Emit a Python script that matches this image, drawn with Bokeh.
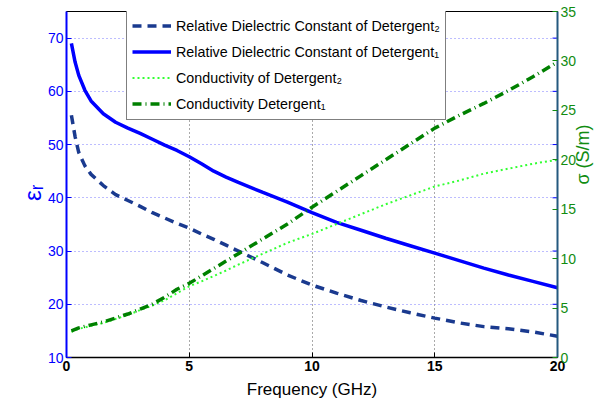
import math

from bokeh.embed import file_html
from bokeh.models import (FixedTicker, Legend, LegendItem, LinearAxis,
                          Range1d)
from bokeh.plotting import figure
from bokeh.resources import INLINE

# ---- data -------------------------------------------------------------
freq = [0.2, 0.35, 0.5, 0.75, 1.0, 1.5, 2.0, 2.5, 3.0, 3.5, 4.0, 4.5, 5.0,
        5.5, 6.0, 6.5, 7.0, 8.0, 9.0, 10.0, 11.0, 12.0, 13.0, 14.0, 15.0,
        16.0, 17.0, 18.0, 19.0, 20.0]

# relative dielectric constant
eps_det1 = [69.0, 65.5, 63.0, 60.2, 58.2, 55.8, 54.2, 53.1, 52.1, 51.0, 49.9,
            48.9, 47.7, 46.4, 45.0, 43.9, 42.9, 41.0, 39.2, 37.2, 35.4, 33.9,
            32.4, 31.0, 29.6, 28.2, 26.8, 25.5, 24.3, 23.1]
eps_det2 = [55.5, 51.5, 48.5, 46.0, 44.4, 42.3, 40.6, 39.5, 38.4, 37.2, 36.2,
            35.2, 34.3, 33.2, 32.2, 31.1, 30.0, 27.8, 25.5, 23.6, 22.1, 20.7,
            19.5, 18.4, 17.4, 16.5, 15.8, 15.4, 14.8, 14.0]

# conductivity (S/m)
sig_det1 = [2.7, 2.85, 3.0, 3.15, 3.3, 3.6, 4.0, 4.4, 4.9, 5.4, 6.1, 6.9, 7.5,
            8.25, 9.0, 9.75, 10.5, 12.0, 13.5, 15.2, 16.8, 18.4, 20.0, 21.6,
            23.2, 24.5, 25.7, 27.0, 28.4, 29.9]
sig_det2 = [2.6, 2.75, 2.9, 3.05, 3.2, 3.5, 3.9, 4.3, 4.8, 5.25, 5.8, 6.5, 7.2,
            7.7, 8.25, 8.8, 9.4, 10.5, 11.6, 12.5, 13.5, 14.5, 15.5, 16.4,
            17.3, 17.9, 18.6, 19.1, 19.6, 20.0]

x_ticks = [0, 5, 10, 15, 20]
eps_ticks = [10, 20, 30, 40, 50, 60, 70]
sig_ticks = [0, 5, 10, 15, 20, 25, 30, 35]

legend_labels = ["Relative Dielectric Constant of Detergent\u2082",
                 "Relative Dielectric Constant of Detergent\u2081",
                 "Conductivity of Detergent\u2082",
                 "Conductivity Detergent\u2081"]

# ---- styling ----------------------------------------------------------
FONT = "Liberation Sans"
BLUE = "#0000ff"
NAVY = "#1a3a8f"
DKGREEN = "#008000"
LTGREEN = "#33ff33"
AXGREEN = "#118c11"

p = figure(width=606, height=401, output_backend="svg", toolbar_location=None,
           x_range=Range1d(0, 20), y_range=Range1d(10, 75),
           min_border_left=66, min_border_right=46, min_border_top=11,
           min_border_bottom=43)
p.extra_y_ranges = {"sig": Range1d(0, 35)}
p.background_fill_color = "white"
p.border_fill_color = "white"
p.outline_line_color = "black"
p.outline_line_width = 1

# bottom axis
xa = p.xaxis[0]
xa.ticker = FixedTicker(ticks=x_ticks)
xa.axis_label = "Frequency (GHz)"
xa.axis_label_text_font = FONT
xa.axis_label_text_font_size = "17px"
xa.axis_label_text_font_style = "normal"
xa.axis_label_text_color = "black"
xa.axis_label_standoff = 6
xa.major_label_text_font = FONT
xa.major_label_text_font_size = "14px"
xa.major_label_text_font_style = "bold"
xa.major_label_text_color = "black"
xa.major_label_standoff = 3
xa.axis_line_color = "black"
xa.axis_line_width = 1.5
xa.major_tick_in = 5
xa.major_tick_out = 0
xa.major_tick_line_color = "black"
xa.minor_tick_line_color = None

# left axis: relative dielectric constant
ya = p.yaxis[0]
ya.ticker = FixedTicker(ticks=eps_ticks)
ya.axis_label = "ε\u1d63"
ya.axis_label_text_font = FONT
ya.axis_label_text_font_size = "24px"
ya.axis_label_text_font_style = "normal"
ya.axis_label_text_color = BLUE
ya.axis_label_standoff = 12
ya.axis_label_orientation = math.pi / 2
ya.major_label_text_font = FONT
ya.major_label_text_font_size = "14px"
ya.major_label_text_color = BLUE
ya.major_label_standoff = 3
ya.axis_line_color = BLUE
ya.axis_line_width = 2
ya.major_tick_in = 5
ya.major_tick_out = 0
ya.major_tick_line_color = BLUE
ya.minor_tick_line_color = None

# right axis: conductivity
ra = LinearAxis(y_range_name="sig", ticker=FixedTicker(ticks=sig_ticks))
ra.axis_label = "σ (S/m)"
ra.axis_label_text_font = FONT
ra.axis_label_text_font_size = "18px"
ra.axis_label_text_font_style = "normal"
ra.axis_label_text_color = AXGREEN
ra.axis_label_standoff = 4
ra.axis_label_orientation = math.pi / 2
ra.major_label_text_font = FONT
ra.major_label_text_font_size = "14px"
ra.major_label_text_color = AXGREEN
ra.major_label_standoff = 3
ra.axis_line_color = "#24597f"
ra.axis_line_width = 2
ra.major_tick_in = 5
ra.major_tick_out = 0
ra.major_tick_line_color = AXGREEN
ra.minor_tick_line_color = None
p.add_layout(ra, "right")

# dotted grid
p.xgrid.ticker = FixedTicker(ticks=x_ticks)
p.xgrid.grid_line_color = "#555555"
p.xgrid.grid_line_dash = "1 3"
p.xgrid.grid_line_width = 1
p.ygrid.ticker = FixedTicker(ticks=eps_ticks)
p.ygrid.grid_line_color = "#7a7aff"
p.ygrid.grid_line_dash = "1 3"
p.ygrid.grid_line_width = 1

# mirrored ticks on the top and right edges of the box
p.ray(x=20, y=eps_ticks, length=5, length_units="screen", angle=math.pi,
      line_color=BLUE, line_width=1)
p.ray(x=x_ticks[1:-1], y=75, length=5, length_units="screen",
      angle=-math.pi / 2, line_color="black", line_width=1)

# ---- series -----------------------------------------------------------
r_e2 = p.line(freq, eps_det2, line_color=NAVY, line_width=3.5,
              line_dash="9 6")
r_e1 = p.line(freq, eps_det1, line_color=BLUE, line_width=3.5)
r_s2 = p.line(freq, sig_det2, y_range_name="sig", line_color=LTGREEN,
              line_width=2, line_dash="2 3")
r_s1 = p.line(freq, sig_det1, y_range_name="sig", line_color=DKGREEN,
              line_width=3.5, line_dash="9 4 1 4")
renderers = [r_e2, r_e1, r_s2, r_s1]

legend = Legend(items=[LegendItem(label=t, renderers=[r])
                       for t, r in zip(legend_labels, renderers)],
                location=(60, 237))
legend.label_text_font = FONT
legend.label_text_font_size = "14.3px"
legend.label_text_color = "black"
legend.label_height = 21
legend.label_width = 262
legend.label_standoff = 5
legend.glyph_height = 21
legend.glyph_width = 39
legend.spacing = 5
legend.padding = 5
legend.margin = 0
legend.border_line_color = "black"
legend.border_line_width = 1
legend.background_fill_color = "white"
legend.background_fill_alpha = 1
p.add_layout(legend)

open("out.html", "w").write(file_html(p, INLINE))
